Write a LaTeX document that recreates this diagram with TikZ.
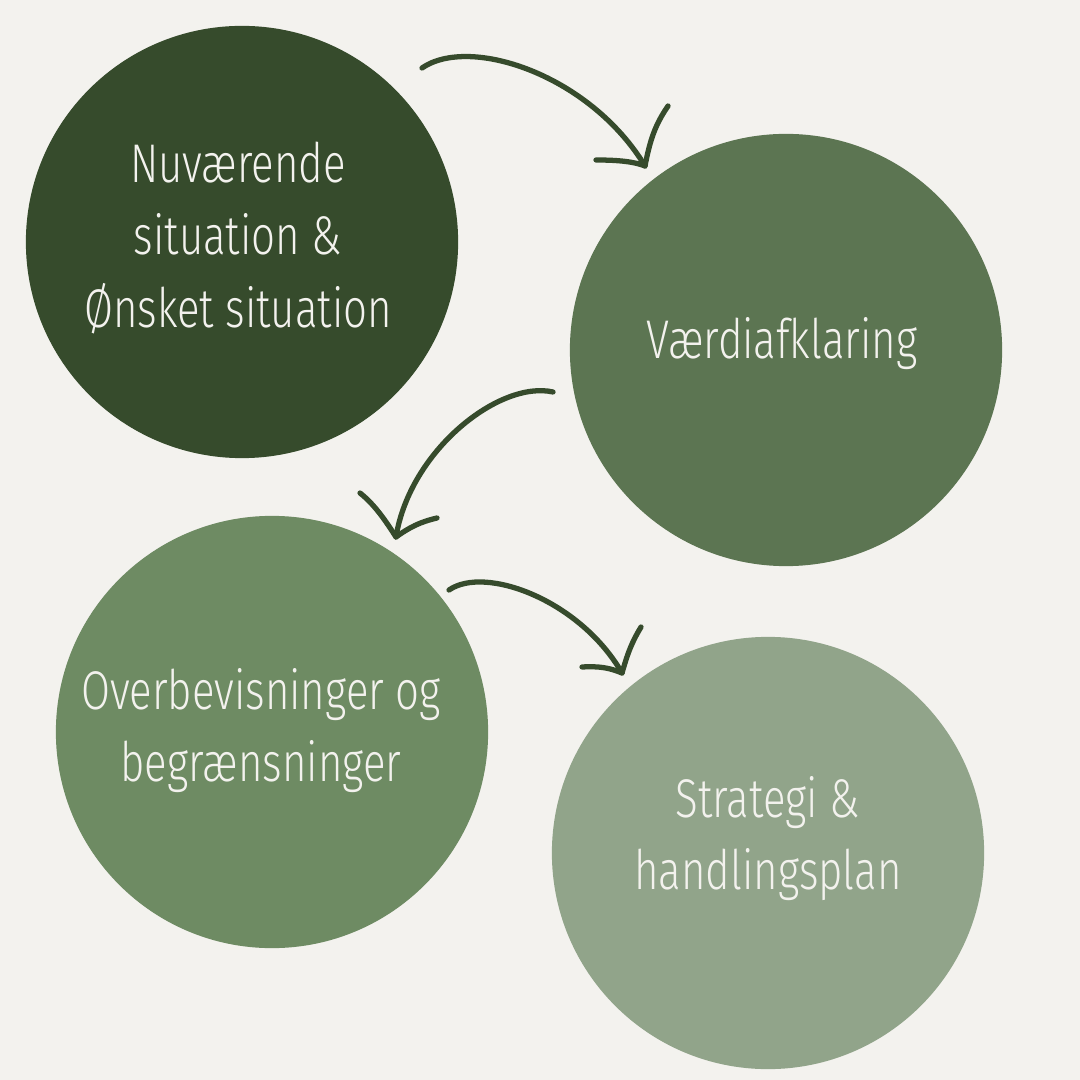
\documentclass[tikz,border=0pt]{standalone}
\usepackage{fontspec}
\setmainfont{Fira Sans Light}[FakeStretch=0.77]
\definecolor{bgcol}{HTML}{F3F2EE}
\definecolor{greenA}{HTML}{364B2C}
\definecolor{greenB}{HTML}{5C7552}
\definecolor{greenC}{HTML}{6E8B63}
\definecolor{greenD}{HTML}{91A48A}
\definecolor{arrowcol}{HTML}{364B2C}
\tikzset{
  stage/.style={circle,minimum size=4.32cm,inner sep=0pt},
  stagetext/.style={text=bgcol,align=center,font=\fontsize{15.5}{20.5}\selectfont},
  flow/.style={draw=arrowcol,line width=1.5pt,line cap=round,line join=round}
}
\begin{document}
\begin{tikzpicture}[x=0.01cm,y=-0.01cm]
    % baggrund
    \fill[bgcol] (0,0) rectangle (1080,1080);
    \useasboundingbox (0,0) rectangle (1080,1080);
    % cirkler
    \node[stage,fill=greenA] (nuv) at (242,242) {};
    \node[stage,fill=greenB] (vaerdi) at (786,350) {};
    \node[stage,fill=greenC] (overb) at (272,732) {};
    \node[stage,fill=greenD] (strat) at (768,853) {};
    % tekster
    \node[stagetext] (nuvtxt) at (238,238) {Nuværende\\situation \&\\Ønsket situation};
    \node[stagetext] (vaerditxt) at (782,344) {Værdiafklaring};
    \node[stagetext] (overbtxt) at (261,731) {Overbevisninger og\\begrænsninger};
    \node[stagetext] (strattxt) at (768,839) {Strategi \&\\handlingsplan};
    % pile
    \coordinate (a1s) at (422,68);
    \coordinate (a1t) at (645,166);
    \coordinate (a2s) at (553,392);
    \coordinate (a2t) at (396,537);
    \coordinate (a3s) at (449,590);
    \coordinate (a3t) at (622,673);
    \draw[flow] (a1s) .. controls (470,35) and (590,75) .. (a1t);
    \draw[flow] (596,160) .. controls (620,160) and (635,162) .. (a1t)
                .. controls (650,140) and (655,125) .. (668,106);
    \draw[flow] (a2s) .. controls (500,380) and (410,450) .. (a2t);
    \draw[flow] (360,493) .. controls (375,505) and (385,520) .. (a2t)
                .. controls (410,527) and (420,522) .. (437,518);
    \draw[flow] (a3s) .. controls (485,565) and (580,600) .. (a3t);
    \draw[flow] (582,667) .. controls (600,666) and (610,668) .. (a3t)
                .. controls (628,652) and (632,642) .. (641,627);
\end{tikzpicture}
\end{document}
